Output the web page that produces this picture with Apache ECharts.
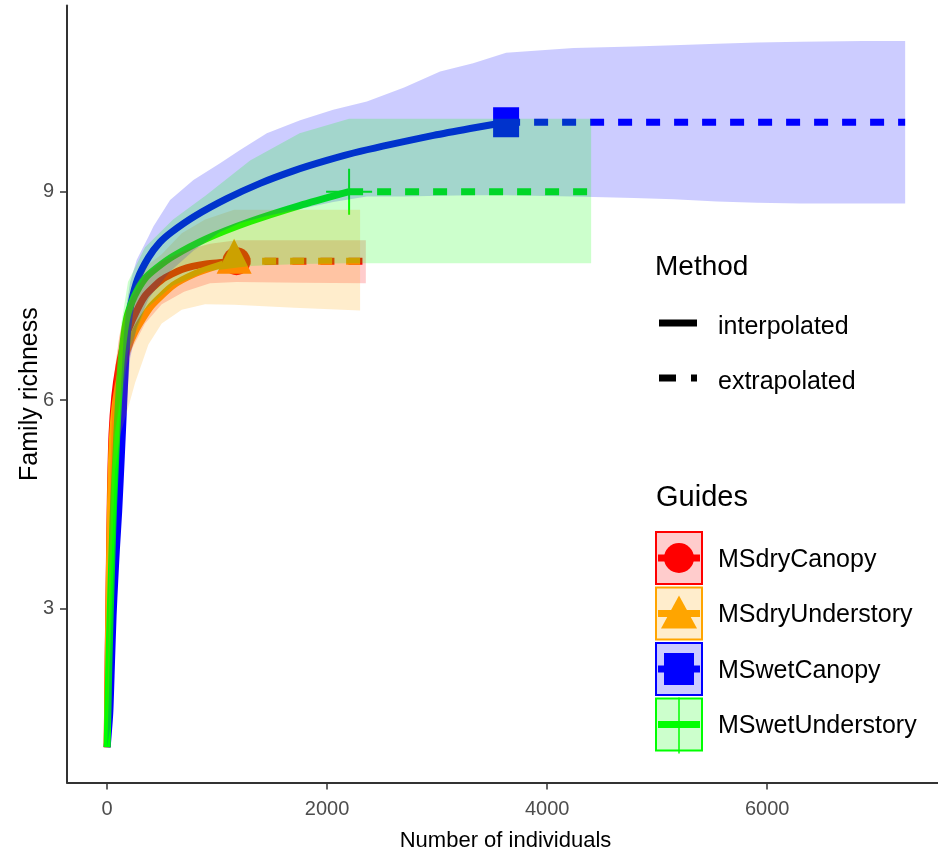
<!DOCTYPE html>
<html>
<head>
<meta charset="utf-8">
<script src="https://cdn.jsdelivr.net/npm/echarts@6/dist/echarts.min.js"></script>
<style>
html,body{margin:0;padding:0;background:#fff;}
#chart{width:938px;height:855px;}
</style>
</head>
<body>
<div id="chart"></div>
<script>
// ---- tick labels ----
const xTicks = [0, 2000, 4000, 6000];
const yTicks = [3, 6, 9];
const groups = ['MSdryCanopy', 'MSdryUnderstory', 'MSwetCanopy', 'MSwetUnderstory'];
const methods = ['interpolated', 'extrapolated'];

// ---- MSdryCanopy ----
const dryCanopyN = [1, 10, 20, 30, 45, 70, 110, 160, 230, 345, 497, 680, 900, 1176];
const dryCanopyS = [1, 2.3, 3.5, 4.6, 5.5, 6.05, 6.5, 6.85, 7.15, 7.5, 7.73, 7.88, 7.96, 8];
const dryCanopyExtN = [1176, 2352];
const dryCanopyExtS = [8, 8];
const dryCanopyBandN = [1, 10, 20, 30, 45, 70, 110, 160, 230, 345, 497, 700, 936, 1176, 1760, 2352];
const dryCanopyLo = [1, 1.8, 3.0, 4.0, 4.9, 5.5, 5.9, 6.4, 6.75, 7.1, 7.38, 7.56, 7.68, 7.7, 7.69, 7.68];
const dryCanopyHi = [1, 2.6, 3.8, 4.9, 5.8, 6.4, 6.9, 7.25, 7.5, 7.8, 8.0, 8.15, 8.25, 8.3, 8.3, 8.3];

// ---- MSdryUnderstory ----
const dryUnderN = [1, 10, 20, 30, 40, 55, 80, 120, 180, 260, 400, 600, 800, 1000, 1155];
const dryUnderS = [1, 2.2, 3.4, 4.4, 5.1, 5.6, 6.0, 6.35, 6.7, 7.0, 7.35, 7.65, 7.82, 7.93, 8];
const dryUnderExtN = [1155, 2300];
const dryUnderExtS = [8, 8];
const dryUnderBandN = [1, 20, 40, 73, 120, 194, 255, 376, 497, 679, 891, 1155, 1700, 2300];
const dryUnderLo = [1, 2.2, 3.6, 5.0, 5.5, 5.9, 6.25, 6.8, 7.1, 7.3, 7.38, 7.37, 7.33, 7.29];
const dryUnderHi = [1, 3.8, 5.6, 6.5, 7.0, 7.4, 7.65, 7.95, 8.1, 8.4, 8.6, 8.74, 8.74, 8.74];

// ---- MSwetCanopy ----
const wetCanopyN = [1, 25, 40, 55, 70, 85, 106, 130, 150, 170, 190, 220, 280, 376, 480, 588, 800, 1088, 1391, 1694, 1997, 2300, 2967, 3300, 3627];
const wetCanopyS = [1, 1.5, 2.2, 2.9, 3.4, 3.85, 4.4, 5.2, 5.9, 6.6, 7.05, 7.4, 7.75, 8.05, 8.27, 8.42, 8.65, 8.9, 9.12, 9.3, 9.45, 9.58, 9.81, 9.91, 10];
const wetCanopyExtN = [3627, 7254];
const wetCanopyExtS = [10, 10];
const wetCanopyBandN = [1, 30, 55, 85, 110, 130, 150, 180, 210, 270, 376, 421, 573, 785, 1027, 1209, 1452, 1755, 2055, 2361, 2700, 3027, 3327, 3627, 4239, 4785, 5148, 5542, 5906, 6300, 6873, 7254];
const wetCanopyHi = [1, 2.4, 3.5, 4.6, 5.5, 6.3, 6.9, 7.4, 7.7, 8.02, 8.35, 8.5, 8.88, 9.17, 9.41, 9.6, 9.84, 10.03, 10.18, 10.3, 10.5, 10.73, 10.85, 11.0, 11.07, 11.09, 11.11, 11.13, 11.15, 11.16, 11.17, 11.17];
const wetCanopyLo = [1, 1.3, 2.2, 3.2, 4.0, 4.6, 5.1, 6.0, 6.6, 7.05, 7.45, 7.55, 7.85, 8.15, 8.42, 8.55, 8.65, 8.75, 8.85, 8.93, 8.93, 8.94, 8.95, 8.95, 8.93, 8.91, 8.89, 8.86, 8.84, 8.83, 8.83, 8.83];

// ---- MSwetUnderstory ----
const wetUnderN = [1, 15, 30, 45, 60, 80, 95, 110, 130, 160, 190, 250, 345, 450, 600, 900, 1300, 1750, 2200];
const wetUnderS = [1, 2.1, 3.0, 3.8, 4.5, 5.2, 5.7, 6.15, 6.6, 7.0, 7.25, 7.5, 7.75, 7.9, 8.07, 8.32, 8.57, 8.8, 9.0];
const wetUnderExtN = [2200, 4400];
const wetUnderExtS = [9, 9];
const wetUnderBandN = [1, 15, 30, 60, 95, 130, 190, 345, 600, 900, 1300, 1750, 2200, 3300, 4400];
const wetUnderHi = [1, 2.4, 3.6, 5.0, 6.3, 7.1, 7.7, 8.2, 8.6, 8.95, 9.45, 9.84, 10.05, 10.05, 10.05];
const wetUnderLo = [1, 1.6, 2.4, 3.6, 4.9, 5.9, 6.7, 7.3, 7.65, 7.85, 7.93, 7.96, 7.97, 7.97, 7.97];

// ---- observed (reference) points ----
const observedN = [1176, 1155, 3627, 2200];
const observedS = [8, 8, 10, 9];

// ---- styling ----
const colors = ['#FF0000', '#FFA500', '#0000FF', '#00FF00'];
const fills = ['rgba(255,0,0,0.2)', 'rgba(255,165,0,0.2)', 'rgba(0,0,255,0.2)', 'rgba(0,255,0,0.2)'];
const FONT = '"Liberation Sans", Arial, Helvetica, sans-serif';

const zip = (a, b) => a.map((v, i) => [v, b[i]]);

const interp = [[dryCanopyN, dryCanopyS], [dryUnderN, dryUnderS], [wetCanopyN, wetCanopyS], [wetUnderN, wetUnderS]];
const extrap = [[dryCanopyExtN, dryCanopyExtS], [dryUnderExtN, dryUnderExtS], [wetCanopyExtN, wetCanopyExtS], [wetUnderExtN, wetUnderExtS]];
const bands = [[dryCanopyBandN, dryCanopyLo, dryCanopyHi], [dryUnderBandN, dryUnderLo, dryUnderHi],
               [wetCanopyBandN, wetCanopyLo, wetCanopyHi], [wetUnderBandN, wetUnderLo, wetUnderHi]];

const series = [];
// lines (bottom layer)
interp.forEach((d, i) => series.push({
  type: 'line', name: groups[i] + ' ' + methods[0], data: zip(d[0], d[1]), z: 2,
  symbol: 'none', smooth: 0.2, silent: true,
  lineStyle: { color: colors[i], width: 7, cap: 'butt', join: 'round' }
}));
extrap.forEach((d, i) => series.push({
  type: 'line', name: groups[i] + ' ' + methods[1], data: zip(d[0], d[1]), z: 2,
  symbol: 'none', silent: true,
  lineStyle: { color: colors[i], width: 7, type: [14, 14], cap: 'butt' }
}));
// observed points
const symbols = ['circle', 'triangle', 'rect',
  'path://M22,0 L24,0 L24,22 L46,22 L46,24 L24,24 L24,46 L22,46 L22,24 L0,24 L0,22 L22,22 Z'];
const symSizes = [28, [35, 35], [26, 30], 46];
const symOffsets = [[0, 0], [0, -5], [0, 0], [0, 0]];
groups.forEach((g, i) => series.push({
  type: 'scatter', name: g, data: [[observedN[i], observedS[i]]], z: 3, silent: true,
  symbol: symbols[i], symbolSize: symSizes[i], symbolOffset: symOffsets[i],
  itemStyle: { color: colors[i], opacity: 1 }
}));
// confidence ribbons (top layer, translucent)
bands.forEach((b, i) => series.push({
  type: 'custom', name: groups[i] + ' band', z: 4, silent: true,
  data: [[b[0][0], b[1][0]]],
  renderItem: function (params, api) {
    const pts = [];
    for (let k = 0; k < b[0].length; k++) pts.push(api.coord([b[0][k], b[2][k]]));
    for (let k = b[0].length - 1; k >= 0; k--) pts.push(api.coord([b[0][k], b[1][k]]));
    return { type: 'polygon', shape: { points: pts }, style: { fill: fills[i], stroke: null } };
  }
}));

// ---- legend (drawn as graphics) ----
const leg = [];
leg.push({ type: 'text', x: 655, y: 267, style: { text: 'Method', font: '28px ' + FONT, fill: '#000', verticalAlign: 'middle' } });
leg.push({ type: 'line', shape: { x1: 659, y1: 323, x2: 697, y2: 323 }, style: { stroke: '#000', lineWidth: 7 } });
leg.push({ type: 'text', x: 718, y: 327, style: { text: methods[0], font: '25px ' + FONT, fill: '#000', verticalAlign: 'middle' } });
leg.push({ type: 'line', shape: { x1: 659, y1: 378, x2: 697, y2: 378 }, style: { stroke: '#000', lineWidth: 7, lineDash: [17, 15] } });
leg.push({ type: 'text', x: 718, y: 382, style: { text: methods[1], font: '25px ' + FONT, fill: '#000', verticalAlign: 'middle' } });
leg.push({ type: 'text', x: 656, y: 498, style: { text: 'Guides', font: '29px ' + FONT, fill: '#000', verticalAlign: 'middle' } });
const boxTops = [532, 587.5, 643, 698.5];
groups.forEach((g, i) => {
  const t = boxTops[i], cy = t + 26, cx = 679;
  leg.push({ type: 'rect', shape: { x: 656, y: t, width: 46, height: 52 }, style: { fill: fills[i], stroke: colors[i], lineWidth: 2 } });
  leg.push({ type: 'line', shape: { x1: 658, y1: cy, x2: 700, y2: cy }, style: { stroke: colors[i], lineWidth: 7 } });
  if (i === 0) leg.push({ type: 'circle', shape: { cx: cx, cy: cy, r: 15 }, style: { fill: colors[i] } });
  if (i === 1) leg.push({ type: 'polygon', shape: { points: [[cx, t + 8], [cx + 18, t + 41], [cx - 18, t + 41]] }, style: { fill: colors[i] } });
  if (i === 2) leg.push({ type: 'rect', shape: { x: cx - 15, y: cy - 16, width: 30, height: 32 }, style: { fill: colors[i] } });
  if (i === 3) leg.push({ type: 'line', shape: { x1: cx, y1: t - 1, x2: cx, y2: t + 55 }, style: { stroke: colors[i], lineWidth: 1.5 } });
  leg.push({ type: 'text', x: 718, y: cy + 2, style: { text: g, font: '25px ' + FONT, fill: '#000', verticalAlign: 'middle' } });
});

const chart = echarts.init(document.getElementById('chart'), null, { renderer: 'canvas' });
chart.setOption({
  animation: false,
  backgroundColor: '#fff',
  grid: { left: 67, top: 5.6, width: 877, height: 777, containLabel: false, outerBoundsMode: 'none' },
  xAxis: {
    type: 'value', min: -364, max: 7607,
    name: 'Number of individuals', nameLocation: 'middle', nameGap: 47, nameMoveOverlap: false,
    nameTextStyle: { fontFamily: FONT, fontSize: 22, color: '#000' },
    axisLine: { show: true, onZero: false, lineStyle: { color: '#333', width: 2 } },
    axisTick: { show: true, length: 7, customValues: xTicks, lineStyle: { color: '#333', width: 1.5 } },
    axisLabel: { customValues: xTicks, formatter: v => String(v), fontFamily: FONT, fontSize: 20, color: '#4d4d4d', margin: 17 },
    splitLine: { show: false }
  },
  yAxis: {
    type: 'value', min: 0.49, max: 11.68,
    name: 'Family richness', nameLocation: 'middle', nameGap: 24, nameRotate: 90, nameMoveOverlap: false,
    nameTextStyle: { fontFamily: FONT, fontSize: 25, color: '#000' },
    axisLine: { show: true, onZero: false, lineStyle: { color: '#333', width: 2 } },
    axisTick: { show: true, length: 7, customValues: yTicks, lineStyle: { color: '#333', width: 1.5 } },
    axisLabel: { customValues: yTicks, formatter: v => String(v), fontFamily: FONT, fontSize: 20, color: '#4d4d4d', margin: 13 },
    splitLine: { show: false }
  },
  series: series,
  graphic: { elements: leg }
});
</script>
</body>
</html>
